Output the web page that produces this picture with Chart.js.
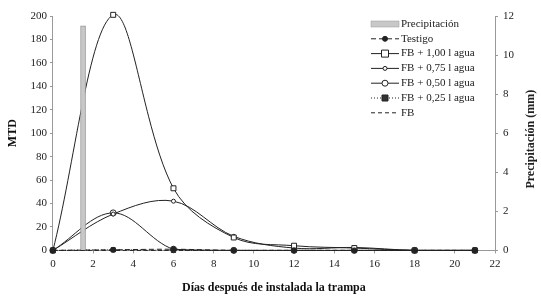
<!DOCTYPE html>
<html>
<head>
<meta charset="utf-8">
<script src="https://cdn.jsdelivr.net/npm/chart.js@4.4.1/dist/chart.umd.min.js"></script>
<style>
  html, body { margin: 0; padding: 0; background: #fff; }
  #wrap { width: 541px; height: 297px; }
</style>
</head>
<body>
<div id="wrap"><canvas id="chart"></canvas></div>
<script>
// Days after the trap was installed
const days = [0, 3, 6, 9, 12, 15, 18, 21];

// MTD per treatment
const testigo = [0, 0.5, 1, 0, 0, 0, 0, 0];
const fb100 = [0, 201, 53, 11, 4, 2, 0, 0];
const fb075 = [0, 31, 42, 12, 2, 2.5, 0, 0];
const fb050 = [0, 32, 1, 0, 0, 0, 0, 0];
const fb025 = [0, 0.5, 0, 0, 0, 0, 0, 0];
const fb = [0, 0, 0, 0, 0, 0, 0, 0];

// Rainfall event
const rainDays = [1.5];
const rainMm = [11.5];

const xTicks = [0, 2, 4, 6, 8, 10, 12, 14, 16, 18, 20, 22];

const serif = "'Liberation Serif', 'Times New Roman', serif";

// turn two arrays into {x, y} points
function pts(xs, ys) {
    return xs.map((x, i) => ({ x: x, y: ys[i] }));
}

// Legend drawn inside the plot area, like the original
const legendPlugin = {
    id: 'innerLegend',
    afterDraw(chart) {
        const c = chart.ctx;
        const x0 = 371, x1 = 399, tx = 401;
        let y = 24;
        const step = 14.8;
        c.save();
        c.font = '11px ' + serif;
        c.textBaseline = 'middle';
        c.fillStyle = '#222';
        chart.data.datasets.forEach(ds => {
            if (ds.type === 'bar') {
                c.fillStyle = ds.backgroundColor;
                c.fillRect(x0, y - 3, x1 - x0, 6);
                c.strokeStyle = ds.borderColor;
                c.lineWidth = 0.5;
                c.strokeRect(x0, y - 3, x1 - x0, 6);
            } else {
                c.strokeStyle = ds.borderColor;
                c.lineWidth = ds.borderWidth;
                c.setLineDash(ds.borderDash || []);
                c.beginPath();
                c.moveTo(x0, y);
                c.lineTo(x1, y);
                c.stroke();
                c.setLineDash([]);
                if (ds.pointRadius > 0) {
                    const r = ds.pointRadius;
                    c.fillStyle = ds.pointBackgroundColor;
                    c.strokeStyle = ds.pointBorderColor;
                    c.lineWidth = 1;
                    const mx = (x0 + x1) / 2;
                    c.beginPath();
                    if (ds.pointStyle === 'rect') {
                        c.rect(mx - r, y - r, 2 * r, 2 * r);
                    } else {
                        c.arc(mx, y, r, 0, Math.PI * 2);
                    }
                    c.fill();
                    c.stroke();
                }
            }
            c.fillStyle = '#222';
            c.fillText(ds.label, tx, y);
            y += step;
        });
        // right axis title, reading bottom to top
        const ya = chart.scales.y2;
        c.font = 'bold 12px ' + serif;
        c.textAlign = 'center';
        c.translate(531, (ya.top + ya.bottom) / 2 + 6);
        c.rotate(-Math.PI / 2);
        c.fillText('Precipitación (mm)', 0, 0);
        c.restore();
    }
};

const lineBase = {
    type: 'line',
    yAxisID: 'y',
    borderColor: '#222',
    borderWidth: 1,
    pointBorderColor: '#222',
    pointBorderWidth: 1,
    tension: 0.35,
    fill: false,
    clip: 6
};

new Chart(document.getElementById('chart'), {
    data: {
        datasets: [
            {
                type: 'bar',
                label: 'Precipitación',
                data: pts(rainDays, rainMm),
                yAxisID: 'y2',
                backgroundColor: '#c8c8c8',
                borderColor: '#999',
                borderWidth: 1,
                barThickness: 5
            },
            Object.assign({}, lineBase, {
                label: 'Testigo',
                data: pts(days, testigo),
                borderDash: [5, 3],
                pointStyle: 'circle',
                pointRadius: 2.5,
                pointBackgroundColor: '#222'
            }),
            Object.assign({}, lineBase, {
                label: 'FB + 1,00 l agua',
                data: pts(days, fb100),
                pointStyle: 'rect',
                pointRadius: 3.5,
                pointBackgroundColor: '#fff'
            }),
            Object.assign({}, lineBase, {
                label: 'FB + 0,75 l agua',
                data: pts(days, fb075),
                pointStyle: 'circle',
                pointRadius: 2,
                pointBackgroundColor: '#fff'
            }),
            Object.assign({}, lineBase, {
                label: 'FB + 0,50 l agua',
                data: pts(days, fb050),
                pointStyle: 'circle',
                pointRadius: 3,
                pointBackgroundColor: '#fff'
            }),
            Object.assign({}, lineBase, {
                label: 'FB + 0,25 l agua',
                data: pts(days, fb025),
                borderDash: [1, 2],
                pointStyle: 'rect',
                pointRadius: 3,
                pointBackgroundColor: '#333'
            }),
            Object.assign({}, lineBase, {
                label: 'FB',
                data: pts(days, fb),
                borderDash: [4, 3],
                pointRadius: 0
            })
        ]
    },
    options: {
        responsive: true,
        maintainAspectRatio: false,
        animation: false,
        layout: { padding: { left: 6, right: 22, top: 16, bottom: 2 } },
        plugins: {
            legend: { display: false },
            tooltip: { enabled: false }
        },
        scales: {
            x: {
                type: 'linear',
                min: 0,
                max: 22,
                offset: false,
                afterBuildTicks: axis => { axis.ticks = xTicks.map(v => ({ value: v })); },
                grid: { offset: false, drawOnChartArea: false, drawTicks: true, tickLength: 3, color: '#999' },
                border: { color: '#999' },
                ticks: { color: '#222', font: { family: serif, size: 11 }, maxRotation: 0, padding: 4 },
                title: {
                    display: true,
                    text: 'Días después de instalada la trampa',
                    color: '#111',
                    font: { family: serif, size: 12, weight: 'bold' },
                    padding: { top: 6, bottom: 0 }
                }
            },
            y: {
                position: 'left',
                min: 0,
                max: 200,
                ticks: { stepSize: 20, color: '#222', font: { family: serif, size: 11 }, padding: 3 },
                grid: { drawOnChartArea: false, drawTicks: true, tickLength: 3, color: '#999' },
                border: { color: '#999' },
                title: {
                    display: true,
                    text: 'MTD',
                    color: '#111',
                    font: { family: serif, size: 12, weight: 'bold' },
                    padding: { top: 0, bottom: 7 }
                }
            },
            y2: {
                position: 'right',
                min: 0,
                max: 12,
                ticks: { stepSize: 2, color: '#222', font: { family: serif, size: 11 }, padding: 5 },
                grid: { drawOnChartArea: false, drawTicks: true, tickLength: 3, color: '#999' },
                border: { color: '#999' }
            }
        }
    },
    plugins: [legendPlugin]
});
</script>
</body>
</html>
